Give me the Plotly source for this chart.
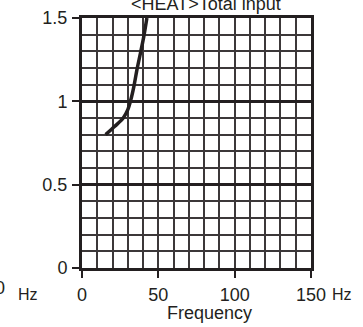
import plotly.graph_objects as go

# Data
freq = [15.5, 21.5, 27, 30, 32, 34, 36, 38.3, 40.5, 42.5]
ratio = [0.80, 0.85, 0.90, 0.95, 1.01, 1.09, 1.19, 1.29, 1.39, 1.50]
x_tickvals = [0, 50, 100, 150]
x_ticktext = ["0", "50", "100", "150"]
y_tickvals = [0, 0.5, 1, 1.5]
y_ticktext = ["0", "0.5", "1", "1.5"]
title_text = "&lt;HEAT&gt;Total input"
x_title = "Frequency"
unit = "Hz"

DARK = "#231f20"
GRID = "#3c3839"
FONT = "Liberation Sans, Arial, sans-serif"

L, R, T, B = 82, 311.5, 18, 268
W, H = 363, 327

def px(xp):
    return (xp - L) / (R - L)

def py(yp):
    return (B - yp) / (B - T)

fig = go.Figure()
fig.add_trace(go.Scatter(
    x=freq, y=ratio, mode="lines",
    line=dict(color=DARK, width=3.5, shape="spline", smoothing=0.8),
    showlegend=False, hoverinfo="skip",
))

fig.update_layout(
    template="none",
    width=W, height=H,
    margin=dict(l=L, r=W - R, t=T, b=H - B, pad=0, autoexpand=False),
    paper_bgcolor="white", plot_bgcolor="white",
    font=dict(family=FONT, size=18, color=DARK),
    showlegend=False,
)

fig.update_xaxes(
    range=[0, 150], tickvals=x_tickvals, ticktext=x_ticktext,
    showgrid=True, gridcolor=GRID, gridwidth=2,
    minor=dict(dtick=10, showgrid=True, gridcolor=GRID, gridwidth=2, ticklen=0),
    showline=True, linecolor=DARK, linewidth=3, mirror=True,
    ticks="outside", ticklen=7, tickwidth=2, tickcolor=DARK,
    ticklabelstandoff=1,
    tickfont=dict(family=FONT, size=18, color=DARK),
    zeroline=False, fixedrange=True, automargin=False,
)
fig.update_yaxes(
    range=[0, 1.5], tickvals=y_tickvals, ticktext=y_ticktext,
    showgrid=True, gridcolor=DARK, gridwidth=3,
    minor=dict(dtick=0.1, showgrid=True, gridcolor=GRID, gridwidth=2, ticklen=0),
    showline=True, linecolor=DARK, linewidth=3, mirror=True,
    ticks="outside", ticklen=7, tickwidth=2, tickcolor=DARK,
    ticklabelstandoff=1,
    tickfont=dict(family=FONT, size=18, color=DARK),
    zeroline=False, fixedrange=True, automargin=False,
)

annos = [
    dict(text=title_text, x=px(206), y=py(15), xanchor="center", yanchor="bottom", size=18),
    dict(text=x_title, x=px(210), y=py(302), xanchor="center", yanchor="top", size=18),
    dict(text=unit, x=px(332), y=py(304), xanchor="left", yanchor="bottom", size=16),
    dict(text=unit, x=px(17), y=py(304), xanchor="left", yanchor="bottom", size=16),
    dict(text="0", x=px(6), y=py(299), xanchor="right", yanchor="bottom", size=18),
]
for a in annos:
    fig.add_annotation(
        text=a["text"], x=a["x"], y=a["y"], xref="paper", yref="paper",
        xanchor=a["xanchor"], yanchor=a["yanchor"], showarrow=False,
        font=dict(family=FONT, size=a["size"], color=DARK),
        borderpad=0,
    )

fig.write_html(
    "out.html",
    config={"displayModeBar": False, "staticPlot": True},
    post_script="document.body.style.margin='0';document.body.style.padding='0';",
)
